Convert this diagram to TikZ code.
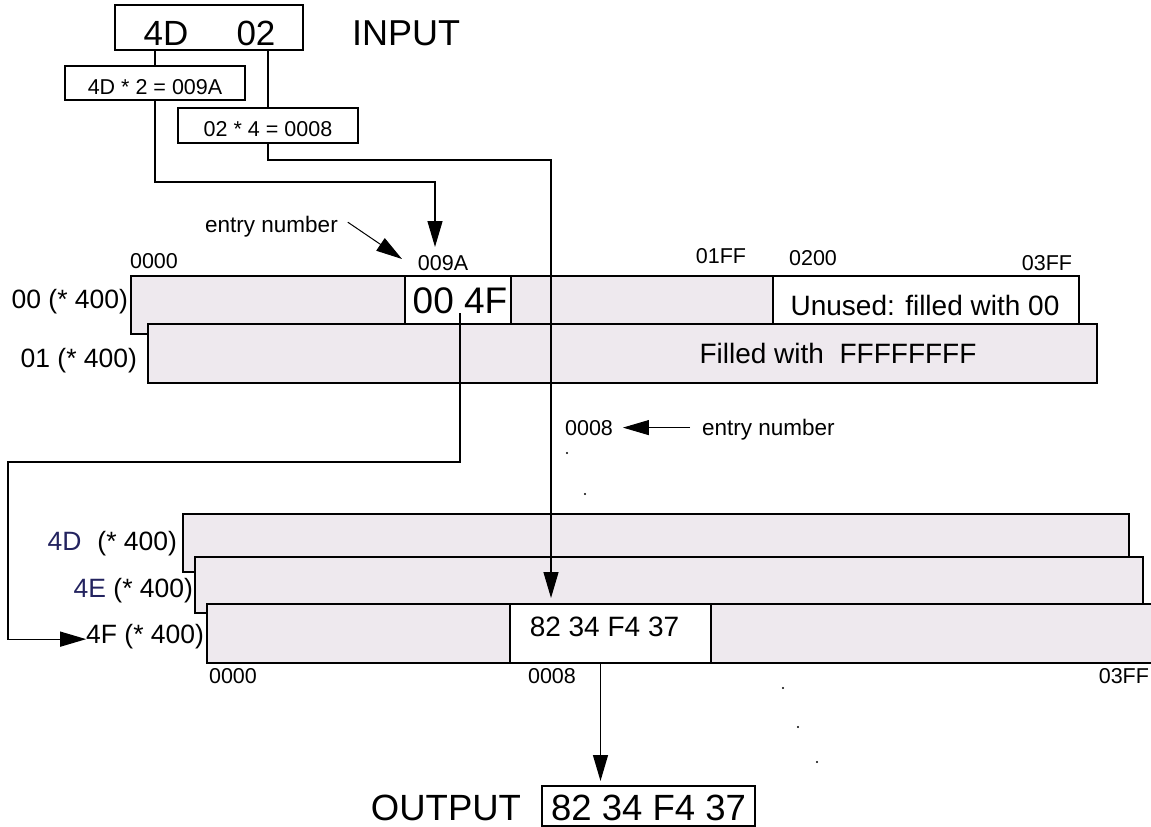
\documentclass[tikz,border=0pt]{standalone}
\usepackage{fontspec}
\setmainfont{Liberation Sans}
\usetikzlibrary{arrows.meta,calc}
\newcommand\setfs[1]{\fontsize{#1}{#1}\selectfont}
\definecolor{stip}{RGB}{238,233,238}
\definecolor{navyt}{RGB}{35,35,95}
\begin{document}
\begin{tikzpicture}[x=1pt,y=-1pt,
  box/.style={draw=black, line width=1.4pt, fill=white, inner sep=0pt, outer sep=0pt, anchor=north west},
  tbl/.style={box, fill=stip},
  lbl/.style={inner sep=0pt, outer sep=0pt, anchor=base},
  small/.style={lbl, font=\setfs{21.5}},
  rowlbl/.style={lbl, font=\setfs{26.5}, anchor=base east},
  conn/.style={line width=1.3pt},
  arr/.style={conn, -{Triangle[length=26pt,width=15pt]}},
]
\useasboundingbox (0,0) rectangle (1151,827);

% ---- input part
\node[box, minimum width=188pt, minimum height=45pt] (inbox) at (115,5) {};
\node[lbl, font=\setfs{35}] (in4d) at (166,45) {4D};
\node[lbl, font=\setfs{35}] (in02) at (256,45) {02};
\node[lbl, font=\setfs{36}] (input) at (406,45) {INPUT};
\node[box, minimum width=180pt, minimum height=34pt] (b4d) at (65,66) {};
\node[small] (t4dx) at (155,94) {4D * 2 = 009A};
\node[box, minimum width=180pt, minimum height=35pt] (b02) at (178,108) {};
\node[small] (t02x) at (268,136) {02 * 4 = 0008};
\draw[conn] (inbox.south -| b4d.north) -- (b4d.north);
\draw[conn] (inbox.south -| b02.north) -- (b02.north);

% ---- first level tables
\node[tbl, minimum width=948pt, minimum height=58pt] (t00) at (131,276) {};
\node[box, minimum width=106pt, minimum height=48pt] (c00) at (405,276) {};
\node[box, minimum width=306pt, minimum height=48pt] (cun) at (773,276) {};
\node[tbl, minimum width=949pt, minimum height=59pt] (t01) at (148,324) {};

\node[small] (a0000) at (154,268) {0000};
\node[small] (l09a) at (443,270) {009A};
\node[small] (a01ff) at (721,263) {01FF};
\node[small] (a0200) at (813,265) {0200};
\node[small] (a03ff) at (1047,270) {03FF};
\node[lbl, font=\setfs{22.5}] (len1) at (271.5,232) {entry number};
\node[lbl, font=\setfs{37}] (v004f) at (460,313) {00 4F};
\node[lbl, font=\setfs{28}] (tun) at (925,315) {Unused: filled with 00};
\node[lbl, font=\setfs{28}] (tff) at (838,363) {Filled with\ \ FFFFFFFF};
\node[rowlbl] (r00) at (128,308) {00 (* 400)};
\node[rowlbl] (r01) at (137,367) {01 (* 400)};

% ---- second level tables
\node[tbl, minimum width=946pt, minimum height=58pt] (t4d) at (183,514) {};
\node[tbl, minimum width=948pt, minimum height=56pt] (t4e) at (195,557) {};
\node[fill=stip, draw=none, inner sep=0pt, outer sep=0pt, anchor=north west,
      minimum width=944pt, minimum height=59pt] (t4f) at (207,604) {};
\draw[line width=1.4pt] (t4f.north east) -- (t4f.north west) -- (t4f.south west) -- (t4f.south east);
\node[box, minimum width=201pt, minimum height=59pt] (c82) at (510,604) {};
\node[lbl, font=\setfs{28}] (v82) at (604.5,636) {82 34 F4 37};

\node[rowlbl] (l4d) at (177,550) {\textcolor{navyt}{4D}\hspace{16pt}(* 400)};
\node[rowlbl] (l4e) at (193,597) {\textcolor{navyt}{4E} (* 400)};
\node[rowlbl] (l4f) at (204,643) {4F (* 400)};
\node[small] (b0000) at (233,683) {0000};
\node[small] (b0008) at (552,683) {0008};
\node[small, anchor=base east] (b03ff) at (1149,683) {03FF};

\node[small] (l08e) at (589,435) {0008};
\node[lbl, font=\setfs{22.5}, anchor=base west] (len2) at (702,435) {entry number};

% ---- output
\node[box, minimum width=213pt, minimum height=40pt] (outbox) at (542,786) {};
\node[lbl, font=\setfs{36.5}] (vout) at (648.5,820) {82 34 F4 37};
\node[lbl, font=\setfs{36.5}] (output) at (446,820) {OUTPUT};

% ---- connectors
\coordinate (tip9a) at (435,247);
\coordinate (tip08) at (551,598);
\coordinate (lft) at (8,462);
\coordinate (e1) at (402,259);
\draw[arr] (b4d.south) -- ++(0,82) -| (tip9a);
\draw[arr] (b02.south) -- ++(0,17) -| (tip08);
\draw[arr] (v004f.base) |- (lft) |- ([yshift=-3pt]l4f.west);
\draw[arr, shorten >=5pt] ([xshift=-10pt]c82.south) -- ([xshift=-10pt]c82.south |- outbox.north);
\draw[arr, line width=1pt] ([xshift=10pt,yshift=4pt]len1.east) -- (e1);
\draw[arr, line width=1pt, shorten <=12pt, shorten >=10pt] (len2.west |- l08e.east) -- (l08e.east);

% ---- stray dots
\foreach \p in {(567,453),(585,494),(783,688),(798,727),(817,762)}
  \fill \p circle (1.1);
\end{tikzpicture}
\end{document}
